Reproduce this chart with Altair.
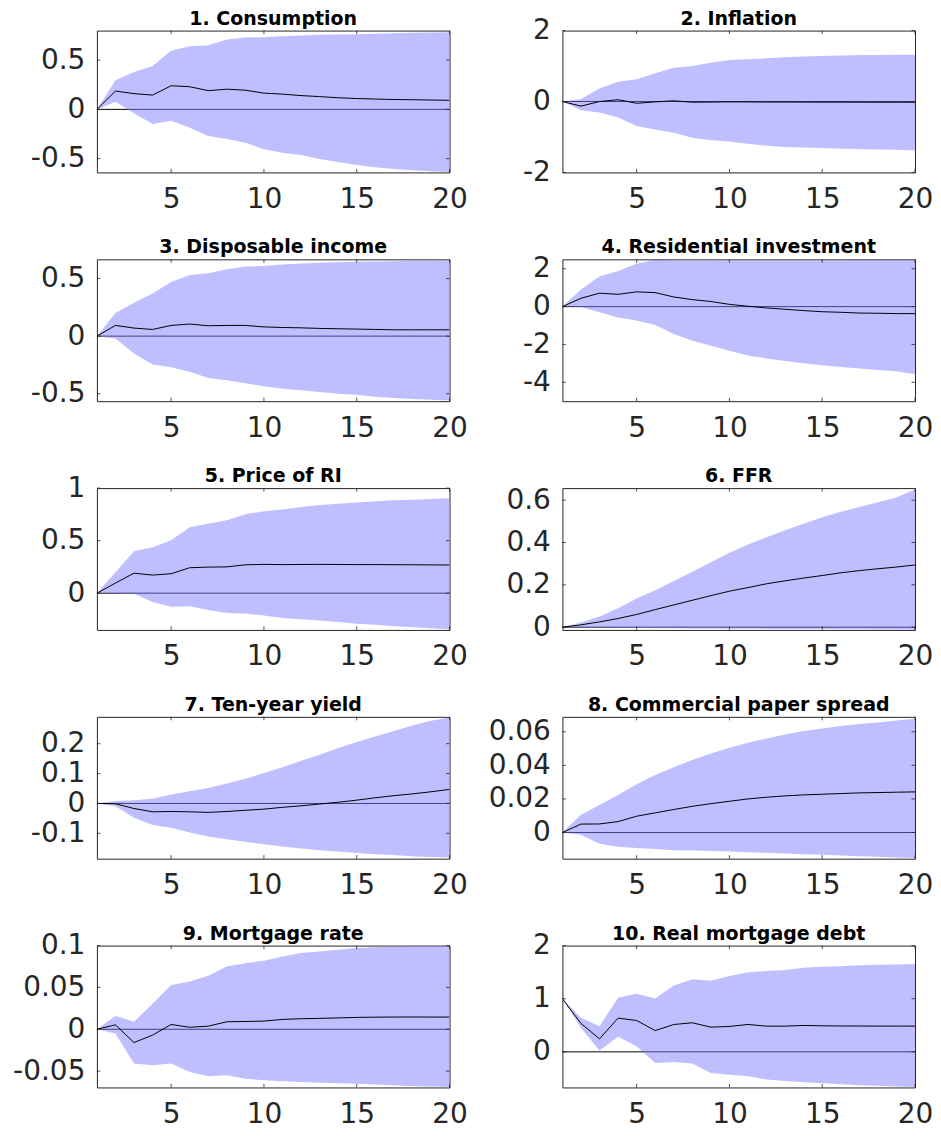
import altair as alt
import pandas as pd

periods = list(range(1, 21))
x_ticks = [5, 10, 15, 20]

titles = [
    "1. Consumption", "2. Inflation", "3. Disposable income",
    "4. Residential investment", "5. Price of RI", "6. FFR",
    "7. Ten-year yield", "8. Commercial paper spread",
    "9. Mortgage rate", "10. Real mortgage debt",
]

# 1. Consumption
cons_med = [0, 0.186, 0.16, 0.145, 0.24, 0.23, 0.19, 0.205, 0.195, 0.165, 0.155, 0.14, 0.13, 0.118, 0.11, 0.105, 0.10, 0.098, 0.095, 0.092]
cons_hi = [0, 0.297, 0.38, 0.44, 0.595, 0.64, 0.65, 0.71, 0.73, 0.733, 0.743, 0.75, 0.757, 0.76, 0.763, 0.768, 0.774, 0.778, 0.781, 0.784]
cons_lo = [0, 0.078, -0.04, -0.149, -0.115, -0.186, -0.27, -0.30, -0.338, -0.405, -0.44, -0.463, -0.503, -0.534, -0.564, -0.588, -0.605, -0.618, -0.628, -0.635]

# 2. Inflation
infl_med = [0, -0.13, 0.0, 0.05, -0.05, -0.01, 0.02, -0.02, -0.015, -0.01, -0.012, -0.015, -0.015, -0.016, -0.018, -0.018, -0.019, -0.02, -0.02, -0.02]
infl_hi = [0, 0.07, 0.37, 0.56, 0.63, 0.8, 0.95, 1.0, 1.09, 1.17, 1.19, 1.22, 1.25, 1.27, 1.28, 1.30, 1.31, 1.31, 1.32, 1.32]
infl_lo = [0, -0.25, -0.31, -0.45, -0.69, -0.79, -0.88, -1.02, -1.09, -1.13, -1.19, -1.25, -1.28, -1.30, -1.31, -1.33, -1.34, -1.35, -1.36, -1.38]

# 3. Disposable income
inc_med = [0, 0.093, 0.07, 0.058, 0.093, 0.105, 0.09, 0.093, 0.093, 0.08, 0.075, 0.072, 0.067, 0.064, 0.061, 0.058, 0.055, 0.055, 0.055, 0.055]
inc_hi = [0, 0.20, 0.29, 0.37, 0.47, 0.53, 0.547, 0.58, 0.605, 0.61, 0.622, 0.63, 0.637, 0.642, 0.645, 0.648, 0.651, 0.654, 0.655, 0.657]
inc_lo = [0, -0.02, -0.15, -0.247, -0.27, -0.31, -0.363, -0.384, -0.41, -0.436, -0.456, -0.47, -0.485, -0.5, -0.51, -0.526, -0.538, -0.546, -0.552, -0.558]

# 4. Residential investment
ri_med = [0, 0.44, 0.71, 0.65, 0.78, 0.74, 0.51, 0.37, 0.27, 0.12, 0.02, -0.07, -0.14, -0.21, -0.27, -0.30, -0.34, -0.35, -0.37, -0.37]
ri_hi = [0, 0.9, 1.59, 1.88, 2.27, 2.48, 2.42, 2.42, 2.43, 2.44, 2.44, 2.44, 2.44, 2.44, 2.44, 2.44, 2.45, 2.45, 2.45, 2.45]
ri_lo = [0, -0.02, -0.3, -0.57, -0.74, -0.97, -1.45, -1.8, -2.07, -2.34, -2.58, -2.74, -2.88, -3.0, -3.1, -3.19, -3.27, -3.35, -3.42, -3.58]

# 5. Price of RI
pri_med = [0, 0.096, 0.19, 0.172, 0.185, 0.242, 0.248, 0.25, 0.27, 0.274, 0.272, 0.273, 0.274, 0.273, 0.272, 0.272, 0.271, 0.27, 0.269, 0.268]
pri_hi = [0, 0.2, 0.4, 0.436, 0.503, 0.627, 0.66, 0.694, 0.75, 0.78, 0.796, 0.82, 0.838, 0.85, 0.863, 0.875, 0.885, 0.89, 0.897, 0.904]
pri_lo = [0, 0, -0.005, -0.083, -0.13, -0.124, -0.16, -0.19, -0.194, -0.213, -0.236, -0.248, -0.26, -0.274, -0.29, -0.30, -0.315, -0.325, -0.335, -0.344]

# 6. FFR
ffr_med = [0, 0.011, 0.025, 0.041, 0.06, 0.083, 0.105, 0.127, 0.149, 0.17, 0.187, 0.205, 0.219, 0.232, 0.244, 0.257, 0.267, 0.276, 0.284, 0.294]
ffr_hi = [0, 0.022, 0.05, 0.09, 0.135, 0.175, 0.218, 0.262, 0.307, 0.352, 0.39, 0.425, 0.458, 0.489, 0.519, 0.545, 0.568, 0.59, 0.613, 0.65]
ffr_lo = [0, -0.001, -0.002, -0.003, -0.004, -0.005, -0.005, -0.006, -0.006, -0.007, -0.007, -0.008, -0.008, -0.009, -0.009, -0.01, -0.01, -0.011, -0.011, -0.012]

# 7. Ten-year yield
ty_med = [0, -0.001, -0.017, -0.028, -0.027, -0.028, -0.03, -0.027, -0.023, -0.019, -0.013, -0.008, -0.002, 0.004, 0.011, 0.019, 0.026, 0.032, 0.039, 0.047]
ty_hi = [0, 0.008, 0.011, 0.016, 0.03, 0.041, 0.052, 0.067, 0.083, 0.102, 0.121, 0.143, 0.163, 0.186, 0.206, 0.224, 0.243, 0.261, 0.277, 0.288]
ty_lo = [0, -0.009, -0.048, -0.072, -0.081, -0.097, -0.111, -0.12, -0.128, -0.137, -0.144, -0.151, -0.157, -0.161, -0.166, -0.17, -0.173, -0.177, -0.179, -0.181]

# 8. Commercial paper spread
cp_med = [0, 0.005, 0.0051, 0.0065, 0.0097, 0.0117, 0.0137, 0.0156, 0.0172, 0.0186, 0.02, 0.021, 0.0218, 0.0224, 0.0228, 0.0232, 0.0236, 0.0238, 0.024, 0.0242]
cp_hi = [0, 0.0105, 0.0164, 0.0224, 0.0287, 0.0343, 0.0388, 0.0432, 0.0471, 0.0505, 0.0535, 0.056, 0.0584, 0.0604, 0.062, 0.0634, 0.0646, 0.0655, 0.0667, 0.0677]
cp_lo = [0, -0.0014, -0.0067, -0.0085, -0.0093, -0.0099, -0.0105, -0.0107, -0.011, -0.0113, -0.0117, -0.0121, -0.0125, -0.0129, -0.0133, -0.0137, -0.0141, -0.0145, -0.0149, -0.0152]

# 9. Mortgage rate
mr_med = [0, 0.0053, -0.0159, -0.0069, 0.0057, 0.0024, 0.0037, 0.009, 0.0093, 0.0098, 0.0118, 0.0126, 0.013, 0.0136, 0.0142, 0.0145, 0.0146, 0.0147, 0.0146, 0.0146]
mr_hi = [0, 0.016, 0.009, 0.0305, 0.053, 0.057, 0.064, 0.075, 0.079, 0.082, 0.087, 0.091, 0.093, 0.095, 0.097, 0.098, 0.099, 0.0996, 0.0998, 0.1]
mr_lo = [0, -0.005, -0.041, -0.043, -0.041, -0.051, -0.056, -0.055, -0.059, -0.061, -0.062, -0.063, -0.064, -0.0645, -0.065, -0.066, -0.067, -0.068, -0.0685, -0.069]

# 10. Real mortgage debt
md_med = [1.0, 0.535, 0.245, 0.635, 0.59, 0.4, 0.515, 0.547, 0.465, 0.478, 0.515, 0.484, 0.484, 0.497, 0.49, 0.487, 0.486, 0.485, 0.485, 0.484]
md_hi = [1.0, 0.64, 0.484, 1.02, 1.094, 1.006, 1.25, 1.365, 1.34, 1.43, 1.5, 1.52, 1.54, 1.585, 1.6, 1.61, 1.63, 1.64, 1.645, 1.654]
md_lo = [1.0, 0.45, 0.025, 0.283, 0.107, -0.21, -0.19, -0.22, -0.4, -0.43, -0.46, -0.52, -0.55, -0.57, -0.59, -0.61, -0.63, -0.64, -0.65, -0.66]

series = [
    (cons_med, cons_lo, cons_hi), (infl_med, infl_lo, infl_hi),
    (inc_med, inc_lo, inc_hi), (ri_med, ri_lo, ri_hi),
    (pri_med, pri_lo, pri_hi), (ffr_med, ffr_lo, ffr_hi),
    (ty_med, ty_lo, ty_hi), (cp_med, cp_lo, cp_hi),
    (mr_med, mr_lo, mr_hi), (md_med, md_lo, md_hi),
]

y_domains = [
    [-0.64, 0.8], [-2, 2], [-0.565, 0.667], [-5, 2.5], [-0.35, 1],
    [-0.013, 0.657], [-0.185, 0.29], [-0.0156, 0.0689], [-0.0695, 0.1], [-0.67, 2],
]
y_ticks = [
    [-0.5, 0, 0.5], [-2, 0, 2], [-0.5, 0, 0.5], [-4, -2, 0, 2], [0, 0.5, 1],
    [0, 0.2, 0.4, 0.6], [-0.1, 0, 0.1, 0.2], [0, 0.02, 0.04, 0.06],
    [-0.05, 0, 0.05, 0.1], [0, 1, 2],
]

W, H = 353, 142
FONT = "DejaVu Sans"
TXT = "#262626"
TL = 3.5


def panel(i):
    med, lo, hi = series[i]
    df = pd.DataFrame({"t": periods, "med": med, "lo": lo, "hi": hi})
    xs = alt.Scale(domain=[1, 20], nice=False, zero=False)
    ys = alt.Scale(domain=y_domains[i], nice=False, zero=False)
    x_axis = alt.Axis(values=x_ticks, ticks=False, domain=False, grid=False,
                      labelFont=FONT, labelFontSize=28, labelColor=TXT,
                      labelBaseline="alphabetic", labelPadding=35,
                      labelFlush=False, labelOverlap=False, title=None)
    y_axis = alt.Axis(values=y_ticks[i], ticks=False, domain=False, grid=False,
                      labelFont=FONT, labelFontSize=28, labelColor=TXT,
                      labelPadding=12, labelFlush=False, labelOverlap=False,
                      labelExpr="'' + datum.value", title=None)

    def X(f):
        return alt.X(f, scale=xs, axis=x_axis)

    def Y(f):
        return alt.Y(f, scale=ys, axis=y_axis)

    zero = alt.Chart(pd.DataFrame({"z": [0]})).mark_rule(
        color="black", strokeWidth=1).encode(y=Y("z:Q"))

    band = alt.Chart(df).mark_area(color="#8080ff", opacity=0.5, clip=True).encode(
        x=X("t:Q"), y=Y("lo:Q"), y2="hi:Q")
    line = alt.Chart(df).mark_line(color="black", strokeWidth=1, clip=True).encode(
        x=X("t:Q"), y=Y("med:Q"))

    xt = pd.DataFrame({"v": x_ticks})
    yt = pd.DataFrame({"v": y_ticks[i]})
    xt_bot = alt.Chart(xt).mark_rule(color=TXT, strokeWidth=0.8).encode(
        x=X("v:Q"), y=alt.value(H), y2=alt.value(H - TL))
    xt_top = alt.Chart(xt).mark_rule(color=TXT, strokeWidth=0.8).encode(
        x=X("v:Q"), y=alt.value(0), y2=alt.value(TL))
    yt_l = alt.Chart(yt).mark_rule(color=TXT, strokeWidth=0.8).encode(
        y=Y("v:Q"), x=alt.value(0), x2=alt.value(TL))
    yt_r = alt.Chart(yt).mark_rule(color=TXT, strokeWidth=0.8).encode(
        y=Y("v:Q"), x=alt.value(W), x2=alt.value(W - TL))

    ttl = alt.Chart(pd.DataFrame({"name": [titles[i]]})).mark_text(
        font=FONT, fontSize=19, fontWeight="bold", color="black",
        baseline="alphabetic", align="center").encode(
        text="name:N", x=alt.value(W / 2), y=alt.value(-6))

    return alt.layer(zero, band, line, xt_bot, xt_top, yt_l, yt_r, ttl).properties(
        width=W, height=H)


chart = alt.concat(*[panel(i) for i in range(10)], columns=2,
                   spacing={"row": 87, "column": 113}, bounds="flush").configure_view(
    stroke=TXT, strokeWidth=1).properties(
    padding={"left": 4, "top": 0, "right": -1, "bottom": 0})

chart.save("out.html", embed_options={"renderer": "svg", "actions": False})
